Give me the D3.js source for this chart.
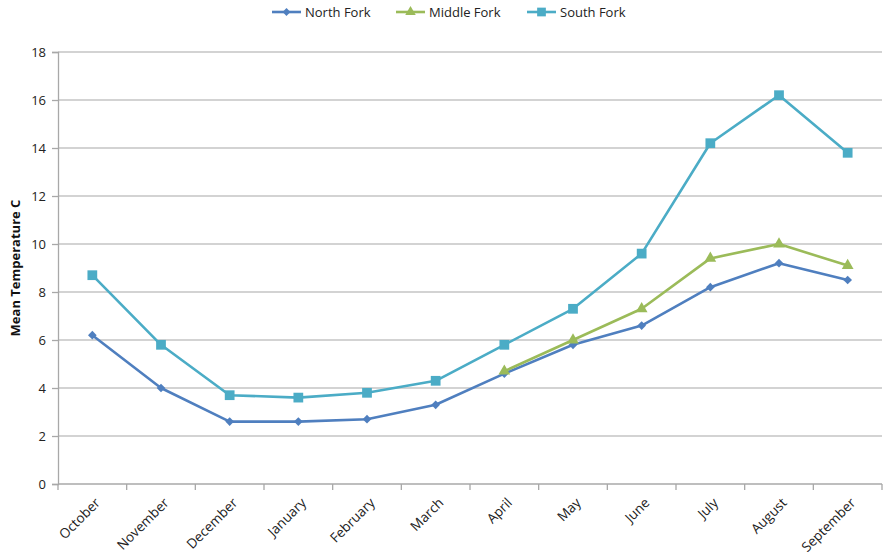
<!DOCTYPE html>
<html>
<head>
<meta charset="utf-8">
<script src="https://cdn.jsdelivr.net/npm/d3@7"></script>
<style>
  body { margin: 0; background: #fff; }
  svg { display: block; font-family: "Open Sans", "Noto Sans", sans-serif; }
</style>
</head>
<body>
<svg id="chart" width="886" height="558"></svg>
<script>
// Monthly mean water temperature (°C) for the three forks
const months = ["October", "November", "December", "January", "February", "March",
                "April", "May", "June", "July", "August", "September"];
const northFork  = [6.2, 4.0, 2.6, 2.6, 2.7, 3.3, 4.6, 5.8, 6.6, 8.2, 9.2, 8.5];
const middleFork = [null, null, null, null, null, null, 4.7, 6.0, 7.3, 9.4, 10.0, 9.1];
const southFork  = [8.7, 5.8, 3.7, 3.6, 3.8, 4.3, 5.8, 7.3, 9.6, 14.2, 16.2, 13.8];
const yTicks = [0, 2, 4, 6, 8, 10, 12, 14, 16, 18];

const series = [
  { name: "North Fork",  values: northFork,  color: "#4f7fbf", symbol: d3.symbolDiamond2 || d3.symbolDiamond, size: 48 },
  { name: "Middle Fork", values: middleFork, color: "#9bbb59", symbol: d3.symbolTriangle, size: 60 },
  { name: "South Fork",  values: southFork,  color: "#4bacc6", symbol: d3.symbolSquare,  size: 95 }
];

const svg = d3.select("#chart");
const plotLeft = 58, plotRight = 882, plotTop = 52, plotBottom = 484;

const x = d3.scaleBand().domain(months).range([plotLeft, plotRight]);
const y = d3.scaleLinear().domain([0, 18]).range([plotBottom, plotTop]);

// horizontal gridlines
svg.append("g").selectAll("line").data(yTicks.filter(t => t > 0)).join("line")
  .attr("x1", plotLeft).attr("x2", plotRight)
  .attr("y1", d => y(d)).attr("y2", d => y(d))
  .attr("stroke", "#c4c4c4").attr("stroke-width", 1.3);

// y axis
const yAxis = svg.append("g").attr("transform", `translate(${plotLeft},0)`)
  .call(d3.axisLeft(y).tickValues(yTicks).tickSize(6).tickPadding(6));
yAxis.select(".domain").attr("stroke", "#a8a8a8").attr("stroke-width", 1.3);
yAxis.selectAll(".tick line").attr("stroke", "#a8a8a8").attr("stroke-width", 1.3);
yAxis.selectAll(".tick text").attr("fill", "#222").attr("font-size", 13)
  .attr("font-family", "'Open Sans', sans-serif");

// x axis with ticks at category boundaries
const xg = svg.append("g").attr("transform", `translate(0,${plotBottom})`);
xg.append("line").attr("x1", plotLeft).attr("x2", plotRight)
  .attr("stroke", "#a8a8a8").attr("stroke-width", 1.3);
const bounds = months.map(m => x(m)).concat([plotRight]);
xg.selectAll("line.tk").data(bounds).join("line").attr("class", "tk")
  .attr("x1", d => d).attr("x2", d => d).attr("y1", 0).attr("y2", 6)
  .attr("stroke", "#a8a8a8").attr("stroke-width", 1.3);
xg.selectAll("text").data(months).join("text")
  .attr("transform", d => `translate(${x(d) + x.bandwidth() / 2 + 2},${13}) rotate(-45)`)
  .attr("text-anchor", "end").attr("dy", "0.7em")
  .attr("font-size", 13.5).attr("fill", "#222")
  .text(d => d);

// y axis title
svg.append("text")
  .attr("transform", `translate(20,${(plotTop + plotBottom) / 2}) rotate(-90)`)
  .attr("text-anchor", "middle").attr("font-size", 13).attr("font-weight", "bold")
  .attr("fill", "#111").text("Mean Temperature C");

// lines and markers
const cx = m => x(m) + x.bandwidth() / 2;
series.forEach(s => {
  const pts = months.map((m, i) => ({ m, v: s.values[i] })).filter(p => p.v != null);
  const line = d3.line().x(p => cx(p.m)).y(p => y(p.v));
  svg.append("path").datum(pts).attr("d", line)
    .attr("fill", "none").attr("stroke", s.color).attr("stroke-width", 2.6)
    .attr("stroke-linejoin", "round");
  svg.append("g").selectAll("path").data(pts).join("path")
    .attr("transform", p => `translate(${cx(p.m)},${y(p.v)})`)
    .attr("d", d3.symbol().type(s.symbol).size(s.size))
    .attr("fill", s.color);
});

// legend
const legendX = [272, 396, 527];
const lg = svg.append("g");
series.forEach((s, i) => {
  const g = lg.append("g").attr("transform", `translate(${legendX[i]},12)`);
  g.append("line").attr("x1", 0).attr("x2", 29)
    .attr("stroke", s.color).attr("stroke-width", 2.6);
  g.append("path").attr("transform", "translate(14.5,0)")
    .attr("d", d3.symbol().type(s.symbol).size(s.size * 0.8)).attr("fill", s.color);
  g.append("text").attr("x", 33).attr("dy", "0.35em")
    .attr("font-size", 13).attr("fill", "#222").text(s.name);
});
</script>
</body>
</html>
